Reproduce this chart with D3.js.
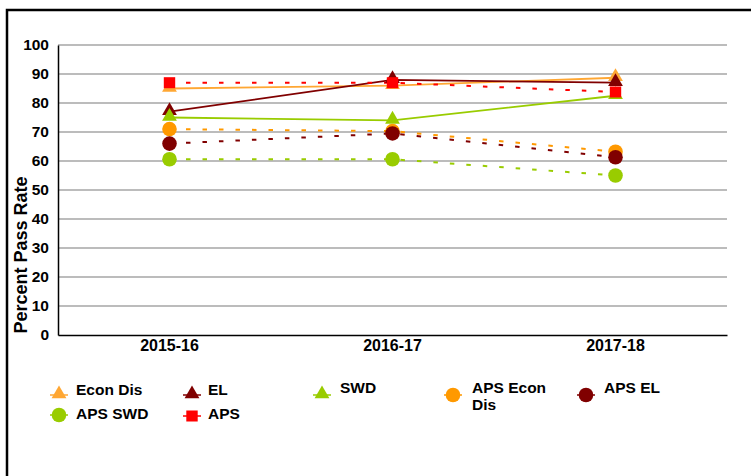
<!DOCTYPE html>
<html>
<head>
<meta charset="utf-8">
<script src="https://cdn.jsdelivr.net/npm/d3@7"></script>
<style>
  body { margin: 0; background: #fff; }
  text { font-family: Arial, "Liberation Sans", sans-serif; font-weight: bold; }
</style>
</head>
<body>
<div id="chart"></div>
<script>
(function(){
  // categories and values
  const years = ["2015-16", "2016-17", "2017-18"];
  const yTicks = [0, 10, 20, 30, 40, 50, 60, 70, 80, 90, 100];

  const econDis = [85, 86, 88.7];
  const el = [77, 88, 87];
  const swd = [75, 74, 82.5];
  const apsEconDis = [71, 70.3, 63.2];
  const apsEl = [66, 69.5, 61.3];
  const apsSwd = [60.6, 60.6, 55];
  const aps = [87, 87, 83.8];

  const series = [
    { name: "Econ Dis", values: econDis, color: "#ffa733", shape: "tri", dash: false },
    { name: "EL", values: el, color: "#800000", shape: "tri", dash: false },
    { name: "SWD", values: swd, color: "#99cc00", shape: "tri", dash: false },
    { name: "APS Econ Dis", values: apsEconDis, color: "#ff9900", shape: "circle", dash: true },
    { name: "APS EL", values: apsEl, color: "#800000", shape: "circle", dash: true },
    { name: "APS SWD", values: apsSwd, color: "#99cc00", shape: "circle", dash: true },
    { name: "APS", values: aps, color: "#ff0000", shape: "square", dash: true }
  ];

  const width = 751, height = 476;
  const margin = { top: 45, right: 24, bottom: 141, left: 58 };

  const svg = d3.select("#chart").append("svg")
    .attr("width", width)
    .attr("height", height);

  // outer frame (runs off the right and bottom edges)
  svg.append("rect")
    .attr("x", 7).attr("y", 10)
    .attr("width", 760).attr("height", 480)
    .attr("fill", "none")
    .attr("stroke", "#000")
    .attr("stroke-width", 2.5);

  const x = d3.scaleBand()
    .domain(years)
    .range([margin.left, width - margin.right]);
  const y = d3.scaleLinear()
    .domain([0, 100])
    .range([height - margin.bottom, margin.top]);

  // gridlines
  svg.append("g")
    .selectAll("line")
    .data(yTicks.filter(d => d > 0))
    .enter().append("line")
    .attr("x1", margin.left).attr("x2", width - margin.right)
    .attr("y1", d => y(d)).attr("y2", d => y(d))
    .attr("stroke", "#a6a6a6")
    .attr("stroke-width", 1.5);

  // y axis
  const yAxis = svg.append("g")
    .attr("transform", `translate(${margin.left},0)`)
    .call(d3.axisLeft(y).tickValues(yTicks).tickSize(0).tickPadding(9));
  yAxis.select(".domain").attr("stroke", "#000").attr("stroke-width", 1.5);
  yAxis.selectAll("text").attr("font-size", 15.5).attr("fill", "#000");

  // x axis
  const xAxis = svg.append("g")
    .attr("transform", `translate(0,${y(0)})`)
    .call(d3.axisBottom(x).tickSize(0).tickPadding(5));
  xAxis.select(".domain").attr("stroke", "#000").attr("stroke-width", 1.5);
  xAxis.selectAll("text").attr("font-size", 16).attr("fill", "#000");

  // y label
  svg.append("text")
    .attr("transform", `translate(27,255) rotate(-90)`)
    .attr("text-anchor", "middle")
    .attr("font-size", 18)
    .text("Percent Pass Rate");

  const cx = (d, i) => x(years[i]) + x.bandwidth() / 2;
  const line = d3.line()
    .x((d, i) => cx(d, i))
    .y(d => y(d));

  function drawMarker(g, shape, color) {
    if (shape === "tri") {
      g.append("path")
        .attr("d", d3.symbol().type(d3.symbolTriangle).size(95)())
        .attr("transform", "translate(0,-1)")
        .attr("fill", color);
    } else if (shape === "circle") {
      g.append("circle").attr("r", 7.3).attr("fill", color);
    } else {
      g.append("rect")
        .attr("x", -5.7).attr("y", -5.5)
        .attr("width", 11.4).attr("height", 11)
        .attr("fill", color);
    }
  }

  // lines first, then markers
  series.forEach(s => {
    svg.append("path")
      .datum(s.values)
      .attr("d", line)
      .attr("fill", "none")
      .attr("stroke", s.color)
      .attr("stroke-width", s.dash ? 2 : 1.8)
      .attr("stroke-dasharray", s.dash ? "4.5,12" : null);
  });
  series.forEach(s => {
    s.values.forEach((v, i) => {
      const g = svg.append("g")
        .attr("transform", `translate(${cx(v, i)},${y(v)})`);
      drawMarker(g, s.shape, s.color);
    });
  });

  // legend: marker position and text baseline
  const legendPos = [
    { x: 59, y: 395, tx: 76, ty: 395 },
    { x: 192, y: 395, tx: 208, ty: 395 },
    { x: 322, y: 395, tx: 340, ty: 393 },
    { x: 453, y: 395, tx: 472, ty: 393 },
    { x: 586, y: 395, tx: 604, ty: 393 },
    { x: 59, y: 415, tx: 76, ty: 419 },
    { x: 192, y: 416, tx: 208, ty: 419 }
  ];
  series.forEach((s, k) => {
    const p = legendPos[k];
    const g = svg.append("g").attr("transform", `translate(${p.x},${p.y})`);
    g.append("line")
      .attr("x1", -9).attr("x2", 9)
      .attr("stroke", s.color).attr("stroke-width", 1.5);
    drawMarker(g, s.shape, s.color);
    const t = svg.append("text")
      .attr("x", p.tx)
      .attr("y", p.ty)
      .attr("font-size", 15.5)
      .attr("fill", "#000");
    if (s.name === "APS Econ Dis") {
      t.append("tspan").attr("x", p.tx).attr("y", p.ty).text("APS Econ");
      t.append("tspan").attr("x", p.tx).attr("y", p.ty + 17).text("Dis");
    } else {
      t.text(s.name);
    }
  });
})();
</script>
</body>
</html>
